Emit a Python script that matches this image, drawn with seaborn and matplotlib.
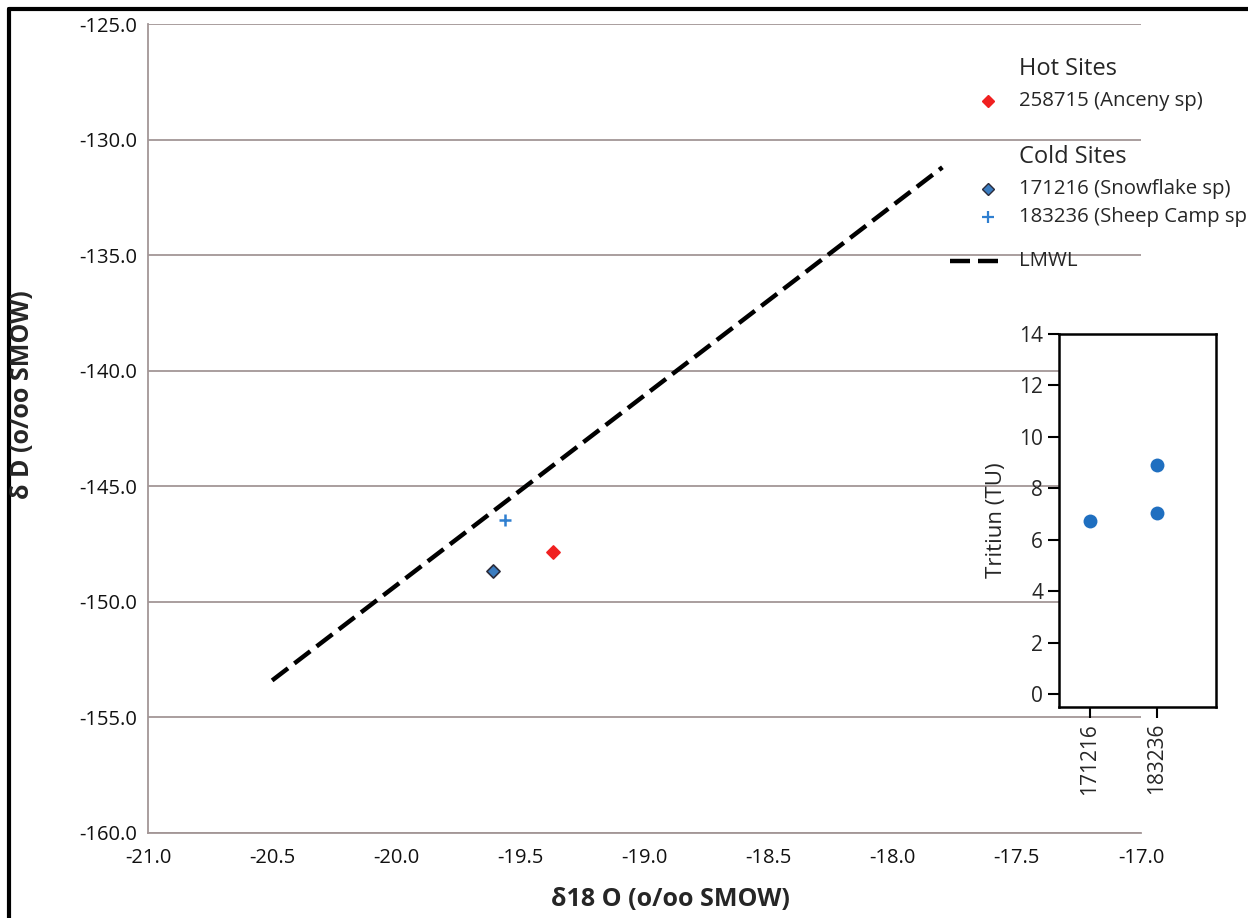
import matplotlib
matplotlib.use("Agg")
import matplotlib.pyplot as plt
from matplotlib.lines import Line2D
import seaborn as sns
import pandas as pd

# ---- data ----
site_names = ["258715 (Anceny sp)", "171216 (Snowflake sp)", "183236 (Sheep Camp sp"]
site_groups = ["Hot Sites", "Cold Sites", "Cold Sites"]
d18o = [-19.37, -19.61, -19.56]
dD = [-147.85, -148.67, -146.46]

lmwl_x = [-20.5, -17.8]
lmwl_y = [-153.4, -131.2]

x_ticks = [-21.0, -20.5, -20.0, -19.5, -19.0, -18.5, -18.0, -17.5, -17.0]
y_ticks = [-160.0, -155.0, -150.0, -145.0, -140.0, -135.0, -130.0, -125.0]

tritium_sites = ["171216", "183236", "183236"]
tritium_vals = [6.72, 8.89, 7.04]
tritium_ticks = [0, 2, 4, 6, 8, 10, 12, 14]

# ---- style ----
sns.set_style("white")
plt.rcParams["font.family"] = ["Open Sans", "DejaVu Sans"]

W, H = 1248, 918
fig = plt.figure(figsize=(W / 100, H / 100), dpi=100)

def fx(px):
    return px / W

def fy(py):
    return 1 - py / H

axcol = "#a39696"

ax = fig.add_axes([fx(148), fy(833), fx(1141) - fx(148), fy(24) - fy(833)])
ax.set_xlim(-21.0, -17.0)
ax.set_ylim(-160.0, -125.0)
ax.set_xticks(x_ticks)
ax.set_yticks(y_ticks)
ax.set_xticklabels([f"{v:.1f}" for v in x_ticks], fontsize=14.5)
ax.set_yticklabels([f"{v:.1f}" for v in y_ticks], fontsize=14.5)
for s in ["top", "right"]:
    ax.spines[s].set_visible(False)
for s in ["left", "bottom"]:
    ax.spines[s].set_color(axcol)
    ax.spines[s].set_linewidth(1.3)
ax.tick_params(axis="both", direction="out", length=5, width=1.2, color=axcol,
               labelcolor="#111111")
ax.tick_params(axis="x", pad=6)
ax.tick_params(axis="y", pad=3)
ax.yaxis.grid(True, color=axcol, linewidth=1.3)
ax.xaxis.grid(False)
ax.set_axisbelow(True)

# LMWL
lmwl_df = pd.DataFrame({"x": lmwl_x, "y": lmwl_y})
sns.lineplot(data=lmwl_df, x="x", y="y", ax=ax, color="black", linewidth=3.2,
             linestyle=(0, (4.5, 1.8)), legend=False)

# points
styles = {
    site_names[0]: dict(marker="D", color="#f02020", edgecolor="#f02020", s=45),
    site_names[1]: dict(marker="D", color="#3a7cc0", edgecolor="#2b2b3a", s=45),
}
pts = pd.DataFrame({"site": site_names, "group": site_groups, "x": d18o, "y": dD})
for _, r in pts.iterrows():
    if r["site"].startswith("183236"):
        ax.plot([r["x"]], [r["y"]], marker="+", color="#2f7fd0", markersize=9,
                markeredgewidth=1.8, linestyle="none")
    else:
        st = styles[r["site"]]
        sns.scatterplot(x=[r["x"]], y=[r["y"]], ax=ax, marker=st["marker"],
                        color=st["color"], edgecolor=st["edgecolor"], linewidth=1.2,
                        s=st["s"], legend=False)

ax.set_xlabel("")
ax.set_ylabel("")
fig.text(fx(670), fy(900), "δ18 O (o/oo SMOW)", fontsize=18, fontweight="bold",
         ha="center", va="center")
fig.text(fx(23), fy(395), "δ D (o/oo SMOW)", fontsize=18, fontweight="bold",
         ha="center", va="center", rotation=90)

# ---- legend (manual) ----
fig.text(fx(1019), fy(69), "Hot Sites", fontsize=17, ha="left", va="center")
fig.text(fx(1019), fy(101), site_names[0], fontsize=14.7, ha="left", va="center")
fig.text(fx(1019), fy(157), "Cold Sites", fontsize=17, ha="left", va="center")
fig.text(fx(1019), fy(189), site_names[1], fontsize=14.7, ha="left", va="center")
fig.text(fx(1019), fy(217), site_names[2], fontsize=14.7, ha="left", va="center")
fig.text(fx(1019), fy(261), "LMWL", fontsize=14.7, ha="left", va="center")
fig.add_artist(Line2D([fx(988)], [fy(101)], marker="D", color="#f02020",
                      markersize=6, linestyle="none"))
fig.add_artist(Line2D([fx(988)], [fy(189)], marker="D", markerfacecolor="#3a7cc0",
                      markeredgecolor="#2b2b3a", markersize=6, linestyle="none"))
fig.add_artist(Line2D([fx(988)], [fy(217)], marker="+", color="#2f7fd0",
                      markersize=8, markeredgewidth=1.6, linestyle="none"))
fig.add_artist(Line2D([fx(950), fx(1002)], [fy(261), fy(261)], color="black",
                      linewidth=3.2, linestyle=(0, (4.5, 1.8))))

# ---- inset: tritium ----
ax2 = fig.add_axes([fx(1059), fy(707), fx(1216) - fx(1059), fy(334) - fy(707)])
tri_df = pd.DataFrame({"site": tritium_sites, "TU": tritium_vals})
sns.stripplot(data=tri_df, x="site", y="TU", ax=ax2, jitter=False, color="#1f6fc0",
              size=10, order=["171216", "183236"])
ax2.set_xlim(-0.46, 1.88)
ax2.set_ylim(-0.5, 14)
ax2.set_yticks(tritium_ticks)
ax2.set_yticklabels([str(t) for t in tritium_ticks], fontsize=15)
ax2.tick_params(axis="x", labelrotation=90, labelsize=15, direction="out",
                length=8, width=1.5, color="black", bottom=True)
ax2.tick_params(axis="y", direction="out", length=8, width=1.5, color="black", left=True)
for s in ax2.spines.values():
    s.set_visible(True)
    s.set_color("black")
    s.set_linewidth(1.8)
ax2.set_xlabel("")
ax2.set_ylabel("Tritiun (TU)", fontsize=16, labelpad=9)
ax2.grid(False)

# ---- figure frame (top and left) ----
fig.add_artist(Line2D([fx(9), 1], [fy(9), fy(9)], color="black", linewidth=3))
fig.add_artist(Line2D([fx(9), fx(9)], [fy(9), 0], color="black", linewidth=3))

fig.savefig("out.png", dpi=100)
